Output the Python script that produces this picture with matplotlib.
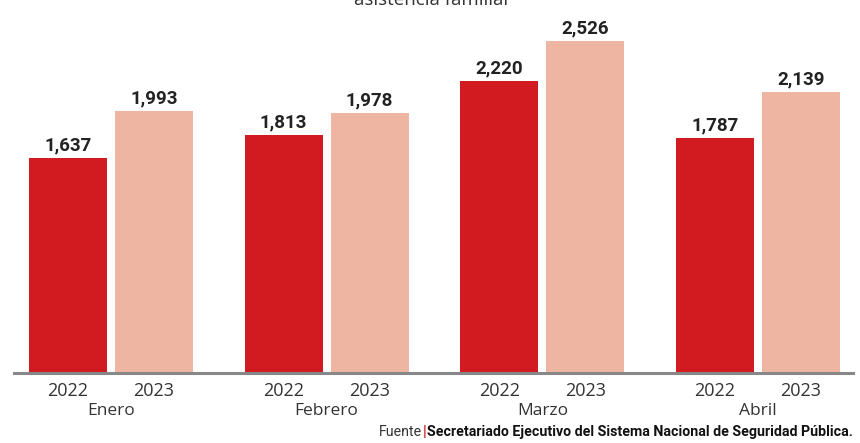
import matplotlib
matplotlib.use("Agg")
import matplotlib.pyplot as plt
import numpy as np

months = ["Enero", "Febrero", "Marzo", "Abril"]
years = ["2022", "2023"]
values_2022 = [1637, 1813, 2220, 1787]
values_2023 = [1993, 1978, 2526, 2139]
title = "asistencia familiar"
source_label = "Fuente"
source_text = "Secretariado Ejecutivo del Sistema Nacional de Seguridad Pública."

RED = "#D21B21"
PINK = "#EEB6A2"
DARK = "#222222"

W, H = 860, 443
fig = plt.figure(figsize=(W / 100, H / 100), dpi=100)
ax = fig.add_axes([14 / W, (H - 373) / H, (853 - 14) / W, 373 / H])

x = np.arange(len(months))
bw = 78 / 215.67
off = 43 / 215.67
b1 = ax.bar(x - off, values_2022, bw, color=RED, zorder=2)
b2 = ax.bar(x + off, values_2023, bw, color=PINK, zorder=2)

for bars, vals in ((b1, values_2022), (b2, values_2023)):
    for r, v in zip(bars, vals):
        ax.annotate(f"{v:,}", (r.get_x() + r.get_width() / 2, v),
                    xytext=(0, 2.5), textcoords="offset points",
                    ha="center", va="bottom", fontsize=13.5,
                    fontweight="bold", family="Roboto", color=DARK)

ax.set_xlim(-(111 - 14) / 215.67, (853 - 111) / 215.67)
ax.set_ylim(0, 373 / 0.1314)
for s in ("top", "right", "left"):
    ax.spines[s].set_visible(False)
ax.spines["bottom"].set_color("#888888")
ax.spines["bottom"].set_linewidth(2.2)
ax.spines["bottom"].set_zorder(3)
ax.set_yticks([])

ticks = np.concatenate([x - off, x + off])
labels = [years[0]] * len(months) + [years[1]] * len(months)
ax.set_xticks(ticks)
ax.set_xticklabels(labels, fontsize=13, family="Open Sans", color="#333333")
ax.tick_params(axis="x", length=0, pad=6.5)

for i, m in enumerate(months):
    ax.text(x[i], -0.08, m, transform=ax.get_xaxis_transform(),
            ha="center", va="top", fontsize=12.5, family="Open Sans",
            color="#333333")

fig.text(433 / W, (H - 5) / H, title, ha="center", va="baseline",
         fontsize=13.5, family="Open Sans", color="#333333")

# source line
renderer = fig.canvas.get_renderer()
ybase = (H - 436) / H
t1 = fig.text(853 / W, ybase, source_text, ha="right", va="baseline",
              fontsize=10.2, fontweight="bold", family="Roboto", color="#111111")
bb = t1.get_window_extent(renderer)
t2 = fig.text((bb.x0 - 1) / W, ybase, "|", ha="right", va="baseline",
              fontsize=11, fontweight="bold", family="Roboto", color=RED)
bb2 = t2.get_window_extent(renderer)
fig.text((bb2.x0 - 0.5) / W, ybase, source_label, ha="right", va="baseline",
         fontsize=10.2, family="Roboto", color="#333333")

fig.savefig("out.png", dpi=100)
